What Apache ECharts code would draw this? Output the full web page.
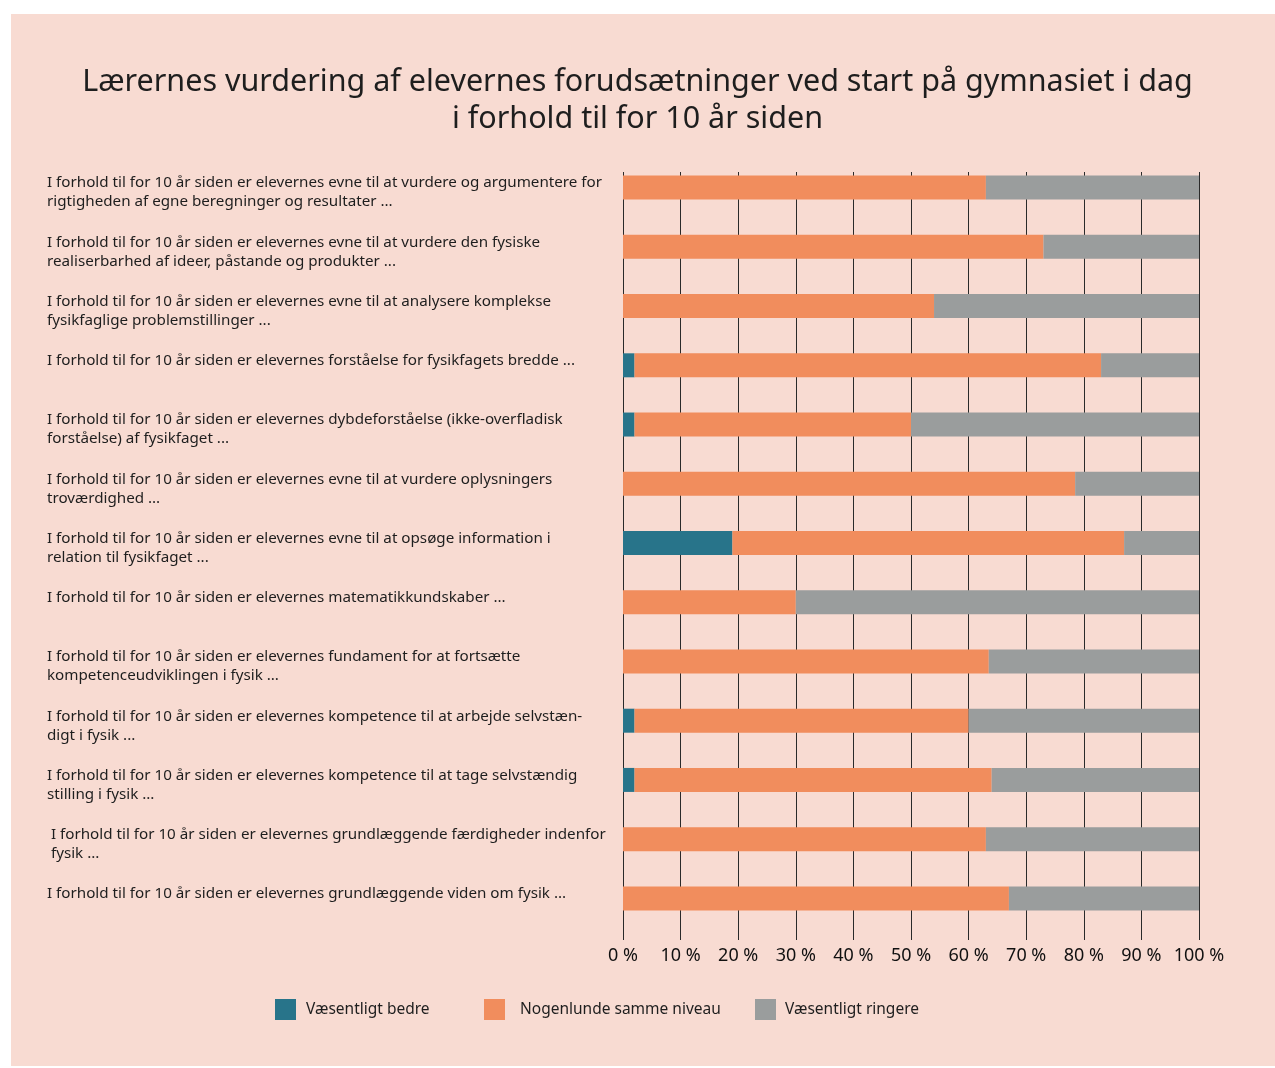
<!DOCTYPE html>
<html>
<head>
<meta charset="utf-8">
<script src="https://cdn.jsdelivr.net/npm/echarts@6/dist/echarts.min.js"></script>
<style>
html,body{margin:0;padding:0;background:#ffffff;}
#chart{width:1275px;height:1068px;}
</style>
</head>
<body>
<div id="chart"></div>
<script>
const categories = [
  "I forhold til for 10 år siden er elevernes evne til at vurdere og argumentere for\nrigtigheden af egne beregninger og resultater ...",
  "I forhold til for 10 år siden er elevernes evne til at vurdere den fysiske\nrealiserbarhed af ideer, påstande og produkter ...",
  "I forhold til for 10 år siden er elevernes evne til at analysere komplekse\nfysikfaglige problemstillinger ...",
  "I forhold til for 10 år siden er elevernes forståelse for fysikfagets bredde ...",
  "I forhold til for 10 år siden er elevernes dybdeforståelse (ikke-overfladisk\nforståelse) af fysikfaget ...",
  "I forhold til for 10 år siden er elevernes evne til at vurdere oplysningers\ntroværdighed ...",
  "I forhold til for 10 år siden er elevernes evne til at opsøge information i\nrelation til fysikfaget ...",
  "I forhold til for 10 år siden er elevernes matematikkundskaber ...",
  "I forhold til for 10 år siden er elevernes fundament for at fortsætte\nkompetenceudviklingen i fysik ...",
  "I forhold til for 10 år siden er elevernes kompetence til at arbejde selvstæn-\ndigt i fysik ...",
  "I forhold til for 10 år siden er elevernes kompetence til at tage selvstændig\nstilling i fysik ...",
  " I forhold til for 10 år siden er elevernes grundlæggende færdigheder indenfor\n fysik ...",
  "I forhold til for 10 år siden er elevernes grundlæggende viden om fysik ..."
];
const seriesNames = ["Væsentligt bedre", "Nogenlunde samme niveau", "Væsentligt ringere"];
const bedre   = [0, 0, 0, 2, 2, 0, 19, 0, 0, 2, 2, 0, 0];
const samme   = [63, 73, 54, 81, 48, 78.5, 68, 30, 63.5, 58, 62, 63, 67];
const ringere = [37, 27, 46, 17, 50, 21.5, 13, 70, 36.5, 40, 36, 37, 33];
const xTicks = [0, 10, 20, 30, 40, 50, 60, 70, 80, 90, 100];
const colors = ["#28748A", "#F18D5D", "#9A9D9D"];
const titleText = "Lærernes vurdering af elevernes forudsætninger ved start på gymnasiet i dag\ni forhold til for 10 år siden";

const FONT = "Noto Sans";
const labels = categories.map(c => c.indexOf("\n") >= 0 ? c : c + "\n\u00a0");

const chart = echarts.init(document.getElementById("chart"), null, {renderer: "canvas"});
const option = {
  backgroundColor: "transparent",
  animation: false,
  textStyle: {fontFamily: FONT},
  graphic: [{
    type: "rect", z: -10, silent: true,
    shape: {x: 11, y: 14, width: 1264, height: 1052},
    style: {fill: "#F8DBD2"}
  }],
  title: {
    text: titleText,
    left: "center",
    top: 59,
    textStyle: {fontFamily: FONT, fontSize: 30.5, fontWeight: "normal", color: "#1e1e1e", lineHeight: 37}
  },
  legend: seriesNames.map((n, i) => ({
    data: [n],
    left: [275, 484, 755][i],
    top: 999,
    padding: 0,
    itemWidth: 21,
    itemHeight: 21,
    icon: "rect",
    textStyle: {fontFamily: FONT, fontSize: 15.5, color: "#1e1e1e", padding: [0, 0, 0, [5, 10, 4][i]]}
  })),
  grid: [
    {left: 623, width: 576, top: 158, height: 770},
    {left: 623, width: 576, top: 172, height: 768},
    {left: 623, width: 576, top: 163, height: 770}
  ],
  xAxis: [
    {gridIndex: 0, type: "value", min: 0, max: 100, interval: 10, show: false},
    {gridIndex: 1, type: "value", min: 0, max: 100, interval: 10,
     axisLine: {show: false}, axisTick: {show: false},
     splitLine: {show: true, lineStyle: {color: "#2a2a2a", width: 1}},
     axisLabel: {margin: 7, formatter: v => xTicks.indexOf(v) >= 0 ? v + " %" : "", fontFamily: FONT, fontSize: 18, color: "#111"}},
    {gridIndex: 2, type: "value", min: 0, max: 100, interval: 10, show: false}
  ],
  yAxis: [
    {gridIndex: 0, type: "category", data: labels, inverse: true, show: false},
    {gridIndex: 1, type: "category", data: labels, inverse: true, show: false},
    {gridIndex: 2, type: "category", data: labels, inverse: true,
     axisLine: {show: false}, axisTick: {show: false}, splitLine: {show: false},
     axisLabel: {align: "left", margin: 576, fontFamily: FONT, fontSize: 15.2, color: "#1e1e1e", lineHeight: 19, verticalAlign: "middle"}}
  ],
  series: seriesNames.map((n, i) => ({
    name: n,
    type: "bar",
    stack: "total",
    xAxisIndex: 0,
    yAxisIndex: 0,
    barWidth: 24,
    itemStyle: {color: colors[i]},
    data: [bedre, samme, ringere][i]
  }))
};
chart.setOption(option);
</script>
</body>
</html>
